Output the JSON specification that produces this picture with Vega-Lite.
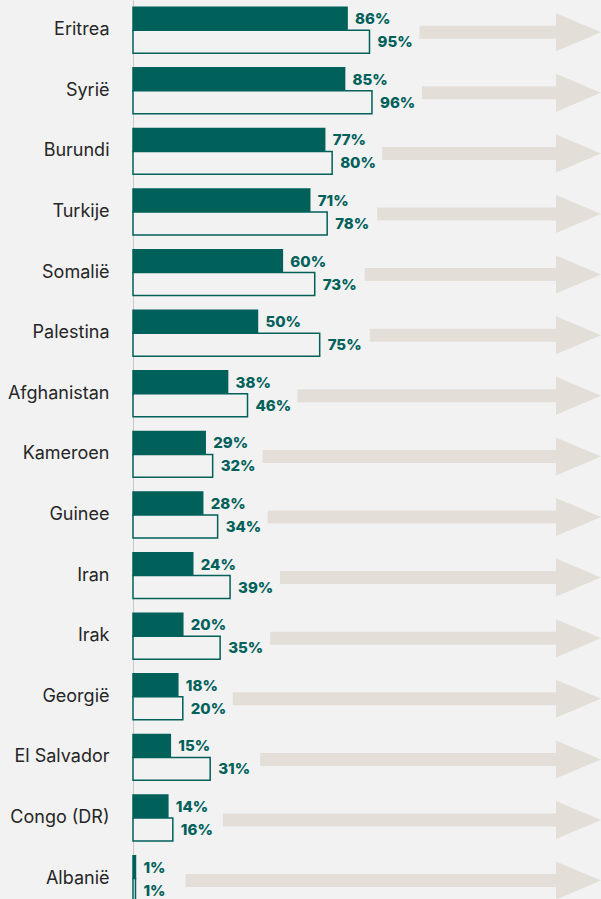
{
  "$schema": "https://vega.github.io/schema/vega-lite/v6.json",
  "width": 468,
  "height": 899,
  "autosize": {"type": "none"},
  "padding": {"left": 133, "top": 0, "right": 0, "bottom": 0},
  "background": "#f2f2f2",
  "config": {"view": {"stroke": null}},
  "data": {
    "values": [
      {"country": "Eritrea", "series": "A", "value": 0.86},
      {"country": "Eritrea", "series": "B", "value": 0.95},
      {"country": "Syrië", "series": "A", "value": 0.85},
      {"country": "Syrië", "series": "B", "value": 0.96},
      {"country": "Burundi", "series": "A", "value": 0.77},
      {"country": "Burundi", "series": "B", "value": 0.80},
      {"country": "Turkije", "series": "A", "value": 0.71},
      {"country": "Turkije", "series": "B", "value": 0.78},
      {"country": "Somalië", "series": "A", "value": 0.60},
      {"country": "Somalië", "series": "B", "value": 0.73},
      {"country": "Palestina", "series": "A", "value": 0.50},
      {"country": "Palestina", "series": "B", "value": 0.75},
      {"country": "Afghanistan", "series": "A", "value": 0.38},
      {"country": "Afghanistan", "series": "B", "value": 0.46},
      {"country": "Kameroen", "series": "A", "value": 0.29},
      {"country": "Kameroen", "series": "B", "value": 0.32},
      {"country": "Guinee", "series": "A", "value": 0.28},
      {"country": "Guinee", "series": "B", "value": 0.34},
      {"country": "Iran", "series": "A", "value": 0.24},
      {"country": "Iran", "series": "B", "value": 0.39},
      {"country": "Irak", "series": "A", "value": 0.20},
      {"country": "Irak", "series": "B", "value": 0.35},
      {"country": "Georgië", "series": "A", "value": 0.18},
      {"country": "Georgië", "series": "B", "value": 0.20},
      {"country": "El Salvador", "series": "A", "value": 0.15},
      {"country": "El Salvador", "series": "B", "value": 0.31},
      {"country": "Congo (DR)", "series": "A", "value": 0.14},
      {"country": "Congo (DR)", "series": "B", "value": 0.16},
      {"country": "Albanië", "series": "A", "value": 0.01},
      {"country": "Albanië", "series": "B", "value": 0.01}
    ]
  },
  "encoding": {
    "y": {
      "field": "country",
      "type": "nominal",
      "sort": null,
      "scale": {"range": [-0.1, 908.9], "paddingInner": 0, "paddingOuter": 0},
      "axis": {
        "title": null,
        "ticks": false,
        "grid": false,
        "domainColor": "#c8c8c8",
        "domainWidth": 1,
        "labelPadding": 24,
        "labelFont": "Inter",
        "labelFontSize": 18,
        "labelColor": "#262626",
        "labelOffset": 0
      }
    }
  },
  "layer": [
    {
      "mark": {"type": "rule", "stroke": "#e3ded7", "strokeWidth": 13, "strokeCap": "butt", "xOffset": 50, "x2Offset": -30, "yOffset": 2},
      "encoding": {
        "x": {"aggregate": "max", "field": "value", "type": "quantitative", "scale": {"domain": [0, 1.88], "nice": false, "zero": true}, "axis": null},
        "x2": {"datum": 1.88}
      }
    },
    {
      "transform": [{"filter": "datum.series == 'A'"}],
      "mark": {"type": "point", "shape": "M-2,-0.844 L0,0 L-2,0.844 Z", "size": 2025, "filled": true, "fill": "#e3ded7", "opacity": 1, "strokeWidth": 0, "yOffset": 2},
      "encoding": {
        "x": {"datum": 1.88, "type": "quantitative"}
      }
    },
    {
      "mark": {"type": "bar", "stroke": "#00605a", "strokeWidth": 1.5},
      "encoding": {
        "x": {"field": "value", "type": "quantitative"},
        "yOffset": {"field": "series", "type": "nominal", "scale": {"paddingInner": 0, "paddingOuter": 0.32}},
        "fill": {"field": "series", "type": "nominal", "scale": {"domain": ["A", "B"], "range": ["#00605a", "#f2f2f2"]}, "legend": null}
      }
    },
    {
      "mark": {"type": "text", "align": "left", "baseline": "middle", "dx": 8, "dy": 0.5, "font": "Inter", "fontSize": 15, "fontWeight": 800, "fill": "#00605a"},
      "encoding": {
        "x": {"field": "value", "type": "quantitative"},
        "yOffset": {"field": "series", "type": "nominal", "scale": {"paddingInner": 0, "paddingOuter": 0.32}},
        "text": {"field": "value", "type": "quantitative", "format": ".0%"}
      }
    }
  ]
}
